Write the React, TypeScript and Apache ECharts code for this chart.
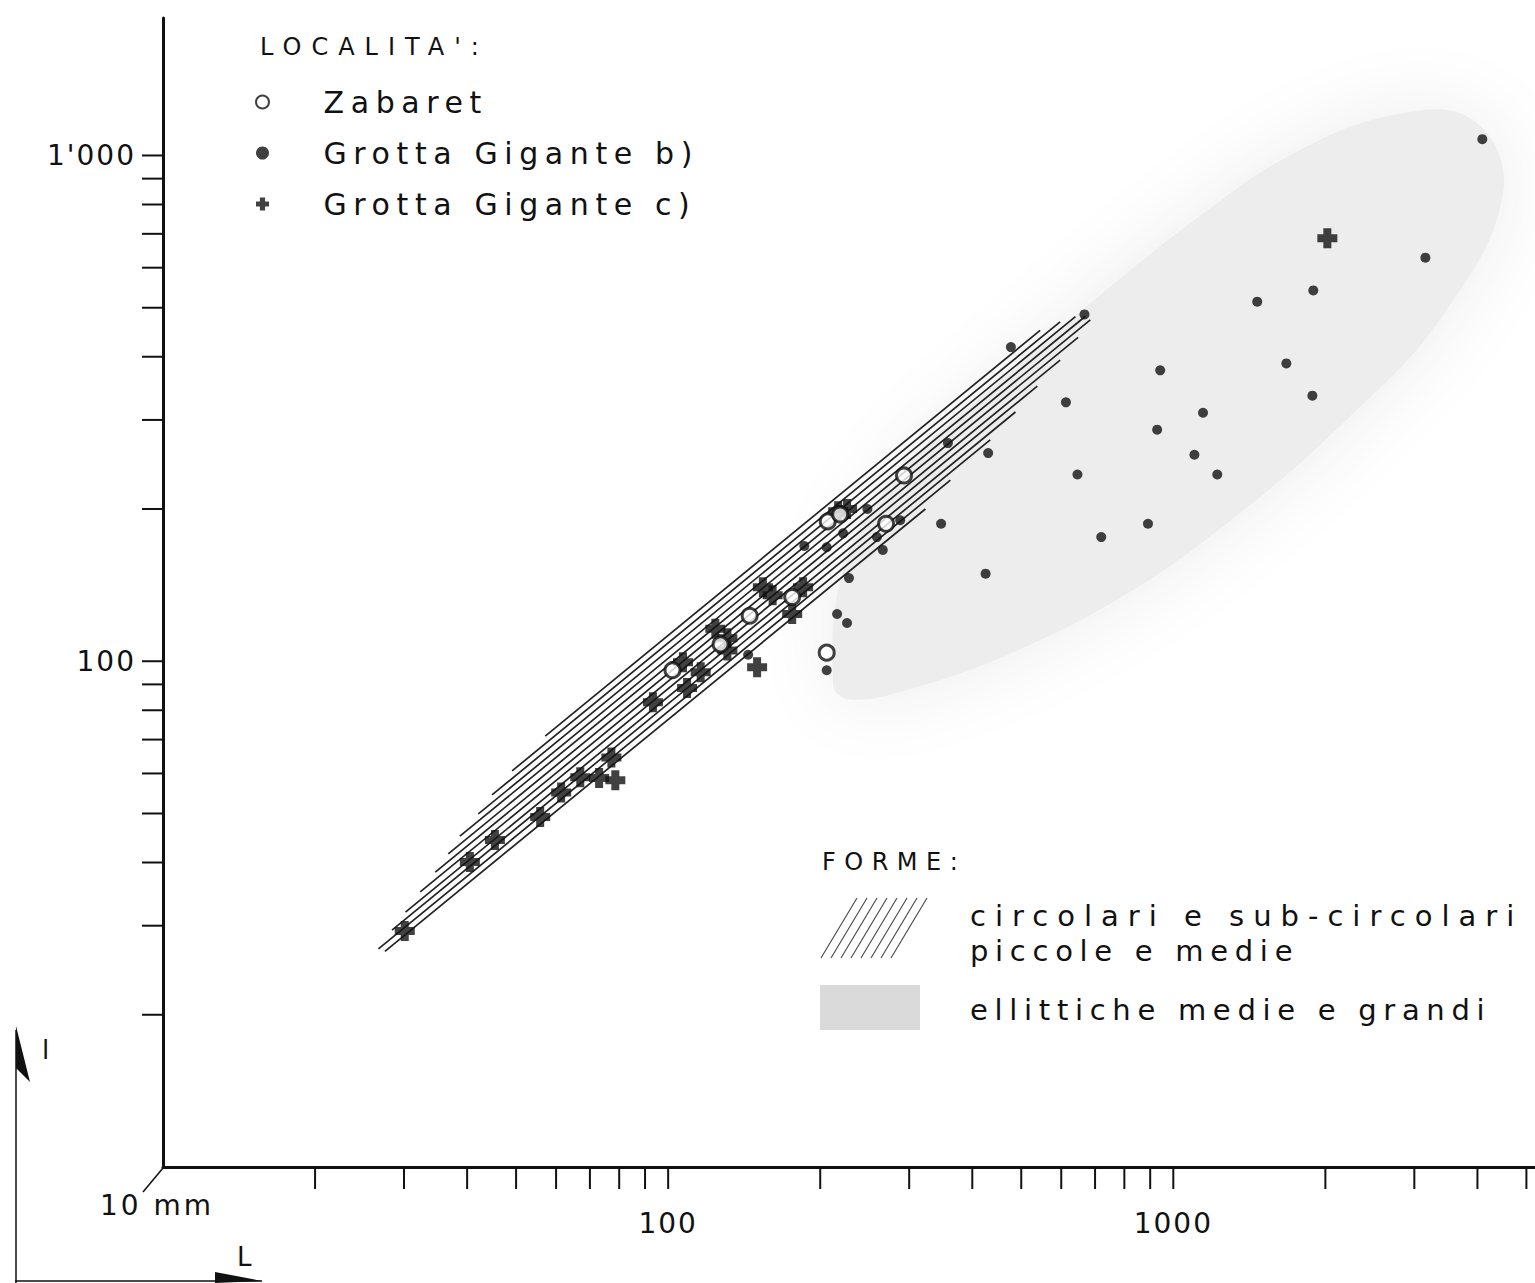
import React, { useEffect, useRef } from 'react';
import * as echarts from 'echarts';

const BASE = '"DejaVu Sans"';
const F_LEG = BASE + ', zlsa, sans-serif';
const F_HEAD1 = BASE + ', zlsb, sans-serif';
const F_HEAD2 = BASE + ', zlsc, sans-serif';
const F_DESC1 = BASE + ', zlsd, sans-serif';
const F_DESC2 = BASE + ', zlse, sans-serif';
const F_AXIS = BASE + ', zlsf, sans-serif';
const F_MM = BASE + ', zlsg, sans-serif';
const INK = '#111111';

// Zabaret (L, l)
const zabaretL = [102, 127, 145, 176, 207, 219, 270, 293, 206];
const zabaretW = [96, 108, 123, 134, 189, 195, 187, 233, 104];

// Grotta Gigante b)
const gigBL = [186, 206, 222, 248, 259, 266, 228, 216, 226, 206, 144, 667, 477, 358, 288, 613, 430, 646, 347, 425, 942, 1145, 929, 1101, 1222, 720, 891, 4090, 3155, 1466, 1893, 1674, 1885];
const gigBW = [169, 168, 179, 200, 176, 166, 146, 124, 119, 96, 103, 485, 418, 270, 190, 325, 258, 234, 187, 149, 376, 310, 287, 256, 234, 176, 187, 1077, 628, 514, 541, 388, 335];

// Grotta Gigante c)
const gigCL = [30.1, 40.5, 45.4, 55.8, 61.4, 67, 73, 77.2, 78.6, 93.3, 107, 116, 109, 124, 131, 131, 154, 161, 176, 185, 150, 226, 217, 2018];
const gigCW = [29.3, 40.1, 44.3, 49.2, 55, 59, 58.8, 64.5, 58.2, 83, 99.5, 95.1, 88.5, 116, 111, 105, 140, 135, 124, 140, 97.3, 200, 198, 686];

// hatched band: parallel lines (start / end)
const bandStartL = [27.5, 26.7, 28.4, 30.2, 32.3, 34.6, 36.7, 38.7, 42.1, 44.8, 49.1, 57.1];
const bandStartW = [26.7, 27.0, 29.4, 31.9, 35.0, 38.3, 41.6, 45.1, 49.9, 54.4, 60.7, 71.1];
const bandEndL = [323, 362, 434, 487, 538, 597, 648, 685, 670, 640, 597, 545];
const bandEndW = [200, 228, 274, 311, 350, 394, 437, 473, 481, 480, 469, 451];

// shaded region of elliptic forms (outline)
const blobL = [212, 225, 290, 454, 717, 1131, 1700, 2700, 3900, 4500, 3400, 2200, 1300, 800, 480, 300, 230];
const blobW = [90, 158, 238, 359, 530, 760, 1000, 1200, 1180, 850, 480, 300, 190, 135, 104, 88, 84];

// axis ticks
const xTickValues = [20, 30, 40, 50, 60, 70, 80, 90, 100, 200, 300, 400, 500, 600, 700, 800, 900, 1000, 2000, 3000, 4000, 5000];
const yTickValues = [20, 30, 40, 50, 60, 70, 80, 90, 100, 200, 300, 400, 500, 600, 700, 800, 900, 1000];

const CROSS = 'path://M6,0L14,0L14,6L20,6L20,14L14,14L14,20L6,20L6,14L0,14L0,6L6,6Z';

function buildOption() {
  const hatch: any[] = [];
  for (let i = 0; i < 8; i++) {
    hatch.push({
      type: 'line',
      shape: { x1: 821 + i * 10, y1: 958, x2: 857 + i * 10, y2: 898 },
      style: { stroke: '#444', lineWidth: 1.1 },
    });
  }
  const txt = (text: string, x: number, y: number, size: number, family: string, align = 'left') => ({
    type: 'text',
    x,
    y,
    style: { text, fontSize: size, fontFamily: family, fill: INK, align, verticalAlign: 'middle' },
  });

  return {
    animation: false,
    backgroundColor: '#ffffff',
    textStyle: { fontFamily: F_AXIS },
    grid: { left: 163, right: 0, top: 18, bottom: 116, containLabel: false },
    legend: {
      orient: 'vertical',
      left: 250,
      top: 82,
      itemWidth: 112,
      itemHeight: 13,
      itemGap: 21,
      selectedMode: false,
      textStyle: { fontSize: 30, color: INK, fontFamily: F_LEG },
      data: ['Zabaret', 'Grotta Gigante b)', 'Grotta Gigante c)'],
    },
    xAxis: {
      type: 'log',
      logBase: 10,
      min: 10,
      max: 5200,
      axisLine: { show: true, onZero: false, lineStyle: { color: INK, width: 3 } },
      axisTick: { show: false },
      minorTick: { show: false },
      splitLine: { show: false },
      axisLabel: {
        margin: 42,
        fontSize: 28,
        color: INK,
        fontFamily: F_AXIS,
        showMaxLabel: false,
        formatter: (v: number) => {
          const r = Math.round(v);
          return r === 100 ? '100' : r === 1000 ? '1000' : '';
        },
      },
    },
    yAxis: {
      type: 'log',
      logBase: 10,
      min: 10,
      max: 1870,
      axisLine: { show: true, onZero: false, lineStyle: { color: INK, width: 3 } },
      axisTick: { show: false },
      minorTick: { show: false },
      splitLine: { show: false },
      axisLabel: {
        margin: 27,
        fontSize: 28,
        color: INK,
        fontFamily: F_AXIS,
        showMaxLabel: false,
        formatter: (v: number) => {
          const r = Math.round(v);
          return r === 100 ? '100' : r === 1000 ? "1'000" : '';
        },
      },
    },
    series: [
      {
        type: 'custom',
        name: 'ellittiche',
        clip: false,
        z: 1,
        silent: true,
        data: blobL.map((l, i) => [l, blobW[i]]),
        renderItem: (params: any, api: any) => {
          if (params.dataIndex !== 0) return null;
          const pts = blobL.map((l, i) => api.coord([l, blobW[i]]));
          return {
            type: 'polygon',
            shape: { points: pts, smooth: 0.4 },
            style: { fill: '#ededed', shadowBlur: 80, shadowColor: '#ececec' },
          };
        },
      },
      {
        type: 'custom',
        name: 'circolari',
        clip: false,
        z: 2,
        silent: true,
        data: bandStartL.map((l, i) => [l, bandStartW[i], bandEndL[i], bandEndW[i]]),
        encode: { x: [0, 2], y: [1, 3] },
        renderItem: (params: any, api: any) => {
          const a = api.coord([api.value(0), api.value(1)]);
          const b = api.coord([api.value(2), api.value(3)]);
          return {
            type: 'line',
            shape: { x1: a[0], y1: a[1], x2: b[0], y2: b[1] },
            style: { stroke: '#222', lineWidth: 1.7 },
          };
        },
      },
      {
        type: 'custom',
        name: 'xticks',
        clip: false,
        silent: true,
        z: 2,
        data: xTickValues.map((v) => [v, 10]),
        renderItem: (params: any, api: any) => {
          const p = api.coord([api.value(0), api.value(1)]);
          return {
            type: 'line',
            shape: { x1: p[0], y1: p[1], x2: p[0], y2: p[1] + 22 },
            style: { stroke: INK, lineWidth: 2 },
          };
        },
      },
      {
        type: 'custom',
        name: 'yticks',
        clip: false,
        silent: true,
        z: 2,
        data: yTickValues.map((v) => [10, v]),
        renderItem: (params: any, api: any) => {
          const p = api.coord([api.value(0), api.value(1)]);
          return {
            type: 'line',
            shape: { x1: p[0] - 21, y1: p[1], x2: p[0], y2: p[1] },
            style: { stroke: INK, lineWidth: 2 },
          };
        },
      },
      {
        type: 'scatter',
        name: 'Grotta Gigante b)',
        z: 3,
        symbol: 'circle',
        symbolSize: 10,
        itemStyle: { color: INK },
        data: gigBL.map((l, i) => [l, gigBW[i]]),
      },
      {
        type: 'scatter',
        name: 'Grotta Gigante c)',
        z: 4,
        symbol: CROSS,
        symbolSize: 20,
        itemStyle: { color: INK },
        data: gigCL.map((l, i) => [l, gigCW[i]]),
      },
      {
        type: 'scatter',
        name: 'Zabaret',
        z: 5,
        symbol: 'circle',
        symbolSize: 15,
        itemStyle: { color: '#ffffff', borderColor: INK, borderWidth: 3 },
        data: zabaretL.map((l, i) => [l, zabaretW[i]]),
      },
    ],
    graphic: [
      txt("LOCALITA':", 260, 47, 24, F_HEAD1),
      txt('FORME:', 822, 862, 24, F_HEAD2),
      { type: 'group', children: hatch },
      {
        type: 'rect',
        shape: { x: 820, y: 985, width: 100, height: 45 },
        style: { fill: '#dadada' },
      },
      txt('circolari e sub-circolari', 970, 916, 29, F_DESC1),
      txt('piccole e medie', 970, 951, 29, F_DESC2),
      txt('ellittiche medie e grandi', 970, 1010, 29, F_DESC2),
      txt('10 mm', 157, 1205, 28, F_MM, 'center'),
      { type: 'line', shape: { x1: 143, y1: 1192, x2: 163, y2: 1168 }, style: { stroke: INK, lineWidth: 1.5 } },
      // small reference arrows
      { type: 'line', shape: { x1: 16, y1: 1283, x2: 16, y2: 1030 }, style: { stroke: INK, lineWidth: 1.5 } },
      { type: 'polygon', shape: { points: [[16, 1026], [30, 1082], [16, 1068]] }, style: { fill: INK } },
      txt('l', 42, 1050, 26, F_MM),
      { type: 'line', shape: { x1: 15, y1: 1281, x2: 262, y2: 1281 }, style: { stroke: INK, lineWidth: 1.5 } },
      { type: 'polygon', shape: { points: [[215, 1272], [262, 1281], [215, 1283]] }, style: { fill: INK } },
      txt('L', 237, 1257, 26, F_MM),
    ],
  };
}

const CSS = `
#chart text[style*="zlsa"], #chart text[font-family*="zlsa"] { letter-spacing: 6.6px; }
#chart text[style*="zlsb"], #chart text[font-family*="zlsb"] { letter-spacing: 10px; }
#chart text[style*="zlsc"], #chart text[font-family*="zlsc"] { letter-spacing: 8.5px; }
#chart text[style*="zlsd"], #chart text[font-family*="zlsd"] { letter-spacing: 9px; }
#chart text[style*="zlse"], #chart text[font-family*="zlse"] { letter-spacing: 6.7px; }
#chart text[style*="zlsf"], #chart text[font-family*="zlsf"] { letter-spacing: 2px; }
#chart text[style*="zlsg"], #chart text[font-family*="zlsg"] { letter-spacing: 3px; }
`;

export default function App() {
  const ref = useRef<HTMLDivElement>(null);
  useEffect(() => {
    if (!ref.current) return;
    const chart = echarts.init(ref.current, null, { renderer: 'svg' });
    chart.setOption(buildOption() as any);
    return () => chart.dispose();
  }, []);
  return (
    <>
      <style>{CSS}</style>
      <div
        id="chart"
        ref={ref}
        style={{ position: 'fixed', left: 0, top: 0, width: 1535, height: 1283, background: '#fff' }}
      />
    </>
  );
}
